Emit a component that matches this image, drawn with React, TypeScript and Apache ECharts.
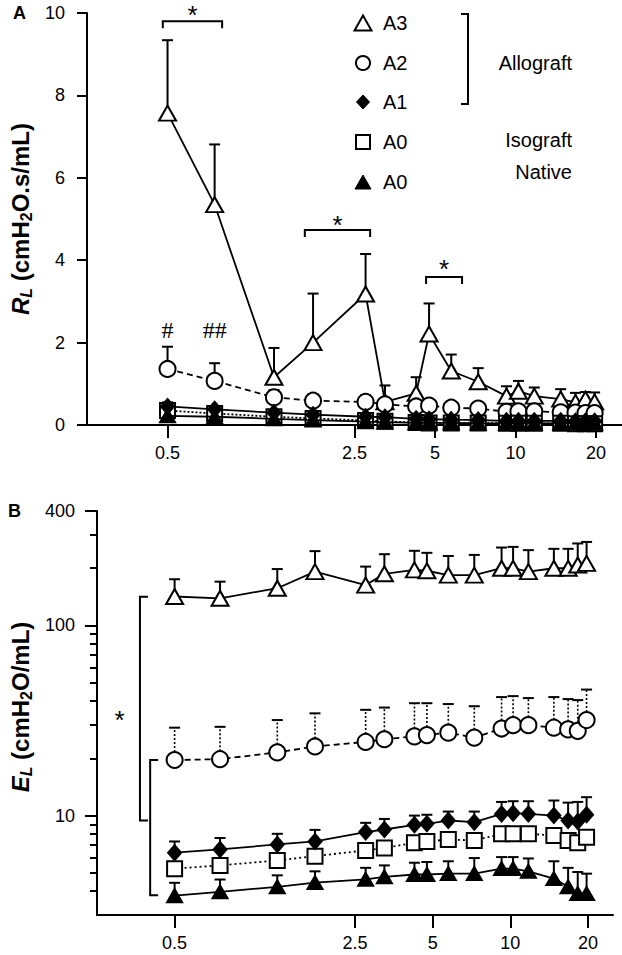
import React, { useEffect, useRef } from 'react';
import * as echarts from 'echarts';

const FONT = "'Liberation Sans', Arial, sans-serif";

// Oscillation frequencies (Hz)
const freqs = [0.5, 0.75, 1.25, 1.75, 2.75, 3.25, 4.25, 4.75, 5.75, 7.25, 9.25, 10.25, 11.75, 14.75, 16.75, 18.25, 19.75];

// Panel A – RL (cmH2O.s/mL): means and mean+SD
const rlA3 = [7.57, 5.35, 1.16, 2.0, 3.18, 0.56, 0.77, 2.21, 1.31, 1.05, 0.7, 0.82, 0.7, 0.63, 0.55, 0.63, 0.56];
const rlA3Up = [9.34, 6.81, 1.87, 3.19, 4.15, 0.96, 1.16, 2.95, 1.71, 1.38, 0.94, 1.07, 0.91, 0.87, 0.78, 0.8, 0.79];
const rlA2 = [1.36, 1.07, 0.67, 0.59, 0.56, 0.5, 0.45, 0.47, 0.42, 0.4, 0.32, 0.33, 0.33, 0.31, 0.3, 0.29, 0.29];
const rlA2Up = [1.9, 1.5, 0.85, 0.74, 0.72, 0.62, 0.56, 0.57, 0.52, 0.5, 0.42, 0.43, 0.42, 0.4, 0.38, 0.38, 0.37];
const rlA1 = [0.45, 0.38, 0.3, 0.25, 0.2, 0.19, 0.15, 0.14, 0.13, 0.12, 0.1, 0.1, 0.1, 0.1, 0.09, 0.09, 0.09];
const rlA1Up = [0.55, 0.45, 0.36, 0.3, 0.25, 0.24, 0.19, 0.18, 0.17, 0.16, 0.14, 0.14, 0.14, 0.14, 0.13, 0.13, 0.13];
const rlIso = [0.35, 0.28, 0.2, 0.16, 0.11, 0.09, 0.06, 0.05, 0.05, 0.05, 0.04, 0.04, 0.04, 0.04, 0.03, 0.03, 0.03];
const rlNat = [0.22, 0.2, 0.15, 0.12, 0.08, 0.07, 0.05, 0.05, 0.05, 0.04, 0.04, 0.04, 0.04, 0.04, 0.04, 0.04, 0.04];

// Panel B – EL (cmH2O/mL): means and mean+SD
const elA3 = [142, 139, 157, 192, 163, 187, 196, 194, 184, 184, 200, 200, 192, 200, 200, 208, 212];
const elA3Up = [175, 170, 198, 246, 204, 237, 247, 241, 232, 235, 257, 259, 249, 253, 253, 270, 275];
const elA2 = [19.6, 19.8, 21.5, 23.1, 24.4, 25.2, 26.1, 26.5, 27.3, 25.7, 28.7, 29.9, 29.9, 29.0, 28.4, 27.9, 31.8];
const elA2Up = [29.0, 29.3, 31.8, 34.5, 36, 37, 39, 39, 38.6, 37.6, 42, 42.5, 41.5, 42, 41, 40.5, 46];
const elA1 = [6.38, 6.64, 7.05, 7.31, 8.19, 8.45, 8.94, 9.05, 9.42, 9.23, 10.2, 10.3, 10.2, 10.0, 9.42, 9.3, 10.1];
const elA1Up = [7.31, 7.62, 8.02, 8.41, 9.16, 9.6, 10.0, 10.1, 10.5, 10.5, 11.8, 11.9, 11.9, 12.0, 11.7, 11.8, 12.5];
const elIso = [5.26, 5.47, 5.81, 6.12, 6.56, 6.75, 7.2, 7.31, 7.49, 7.4, 8.02, 8.02, 8.02, 7.86, 7.4, 7.2, 7.7];
const elNat = [3.79, 3.97, 4.22, 4.44, 4.62, 4.76, 4.9, 4.9, 4.95, 4.95, 5.26, 5.26, 5.09, 4.66, 4.22, 3.89, 3.89];
const elNatUp = [4.43, 4.61, 4.85, 5.09, 5.31, 5.47, 5.65, 5.7, 5.75, 5.98, 6.05, 6.05, 5.95, 5.75, 5.31, 5.05, 4.95];

// Tick values
const xTickVals = [0.5, 2.5, 5, 10, 20];
const rlTickVals = [0, 2, 4, 6, 8, 10];
const elTickVals = [10, 100, 400];
const elMinorVals = [4, 5, 6, 7, 8, 9, 20, 30, 40, 50, 60, 70, 80, 90, 200, 300];

// Significance annotations: [x from, x to, y]
const rlBrackets = [[0.48, 0.8, 9.8], [1.63, 2.86, 4.73], [4.63, 6.31, 3.59]];
const rlMarks: [number, number, string][] = [[0.62, 10.07, '*'], [2.16, 4.98, '*'], [5.4, 3.9, '*'], [0.5, 2.3, '#'], [0.75, 2.3, '##']];
// [x, y top, y bottom]
const elBrackets = [[0.367, 141.5, 9.42], [0.402, 19.6, 3.81]];
const elMarks: [number, number, string][] = [[0.306, 34, '*']];

const lg = Math.log10;
const fmtNum = (v: number) => String(parseFloat(v.toPrecision(3)));
const id = (v: number) => v;

function errSeries(xi: number, yi: number, ys: number[], ups: number[], tf: (v: number) => number, stemDash: any = null) {
  return {
    type: 'custom', xAxisIndex: xi, yAxisIndex: yi, z: 1, silent: true,
    data: freqs.map((f, i) => [lg(f), tf(ys[i]), tf(ups[i])]),
    encode: { x: 0, y: [1, 2] },
    renderItem: (_p: any, api: any) => {
      const a = api.coord([api.value(0), api.value(1)]);
      const b = api.coord([api.value(0), api.value(2)]);
      const stemStyle: any = { stroke: '#000', lineWidth: stemDash ? 1.6 : 2 };
      if (stemDash) stemStyle.lineDash = stemDash;
      return {
        type: 'group', children: [
          { type: 'line', shape: { x1: a[0], y1: a[1], x2: b[0], y2: b[1] }, style: stemStyle },
          { type: 'line', shape: { x1: b[0] - 5.5, y1: b[1], x2: b[0] + 5.5, y2: b[1] }, style: { stroke: '#000', lineWidth: 2 } },
        ],
      };
    },
  };
}

function lineSeries(xi: number, yi: number, ys: number[], tf: (v: number) => number, symbol: string, size: any, fill: string, dash: any, z: number) {
  return {
    type: 'line', xAxisIndex: xi, yAxisIndex: yi, z, silent: true,
    data: freqs.map((f, i) => [lg(f), tf(ys[i])]),
    symbol, symbolSize: size, showSymbol: true, showAllSymbol: true,
    itemStyle: { color: fill, borderColor: '#000', borderWidth: 2, opacity: 1 },
    lineStyle: { color: '#000', width: 1.8, type: dash },
    clip: false,
  };
}

function hBracketSeries(xi: number, yi: number, list: number[][]) {
  return {
    type: 'custom', xAxisIndex: xi, yAxisIndex: yi, z: 3, silent: true,
    data: list.map((b) => [lg(b[0]), lg(b[1]), b[2]]),
    encode: { x: [0, 1], y: 2 },
    renderItem: (_p: any, api: any) => {
      const a = api.coord([api.value(0), api.value(2)]);
      const b = api.coord([api.value(1), api.value(2)]);
      return {
        type: 'polyline',
        shape: { points: [[a[0], a[1] + 7], [a[0], a[1]], [b[0], b[1]], [b[0], b[1] + 7]] },
        style: { stroke: '#000', lineWidth: 2, fill: 'none' },
      };
    },
  };
}

function vBracketSeries(xi: number, yi: number, list: number[][]) {
  return {
    type: 'custom', xAxisIndex: xi, yAxisIndex: yi, z: 3, silent: true,
    data: list.map((b) => [lg(b[0]), lg(b[1]), lg(b[2])]),
    encode: { x: 0, y: [1, 2] },
    renderItem: (_p: any, api: any) => {
      const a = api.coord([api.value(0), api.value(1)]);
      const b = api.coord([api.value(0), api.value(2)]);
      return {
        type: 'polyline',
        shape: { points: [[a[0] + 8, a[1]], [a[0], a[1]], [b[0], b[1]], [b[0] + 8, b[1]]] },
        style: { stroke: '#000', lineWidth: 2, fill: 'none' },
      };
    },
  };
}

function markSeries(xi: number, yi: number, list: [number, number, string][], tf: (v: number) => number) {
  return {
    type: 'custom', xAxisIndex: xi, yAxisIndex: yi, z: 3, silent: true,
    data: list.map((m, i) => [lg(m[0]), tf(m[1]), i]),
    encode: { x: 0, y: 1 },
    renderItem: (_p: any, api: any) => {
      const p = api.coord([api.value(0), api.value(1)]);
      const txt = list[api.value(2)][2];
      const star = txt === '*';
      return {
        type: 'text', x: p[0], y: p[1] + (star ? 5 : 0),
        style: {
          text: txt, fill: '#000', align: 'center', verticalAlign: 'middle',
          font: star ? `26px ${FONT}` : `24px 'Liberation Serif', serif`,
        },
      };
    },
  };
}

const axisLineStyle = { color: '#000', width: 2 };
const labelStyle = { color: '#000', fontSize: 18, fontFamily: FONT };

function xAxisCfg(gridIndex: number) {
  const vals = xTickVals.map(lg);
  return {
    gridIndex, type: 'value', min: lg(0.25), max: lg(25),
    axisLine: { show: true, onZero: false, lineStyle: axisLineStyle },
    axisTick: { show: true, customValues: vals, length: 13, lineStyle: axisLineStyle },
    axisLabel: { ...labelStyle, customValues: vals, margin: 19, formatter: (v: number) => fmtNum(Math.pow(10, v)) },
    splitLine: { show: false },
  };
}

const richName = {
  i: { fontStyle: 'italic', fontWeight: 'bold', fontSize: 24, fontFamily: FONT, color: '#000' },
  s: { fontStyle: 'italic', fontWeight: 'bold', fontSize: 16, fontFamily: FONT, color: '#000', padding: [12, 0, 0, 0] },
  b: { fontWeight: 'bold', fontSize: 24, fontFamily: FONT, color: '#000' },
  n: { fontWeight: 'bold', fontSize: 16, fontFamily: FONT, color: '#000', padding: [12, 0, 0, 0] },
};

export default function App() {
  const ref = useRef<HTMLDivElement>(null);
  useEffect(() => {
    if (!ref.current) return;
    const chart = echarts.init(ref.current, undefined, { renderer: 'svg' });
    const legendText = (text: string, x: number, y: number, align = 'left') => ({
      type: 'text', x, y, style: { text, fill: '#000', font: `20px ${FONT}`, align, verticalAlign: 'middle' },
    });
    const option: any = {
      animation: false,
      backgroundColor: '#fff',
      grid: [
        { left: 87, top: 13, width: 535, height: 412, containLabel: false },
        { left: 87, top: 511, width: 526, height: 404, containLabel: false },
      ],
      xAxis: [xAxisCfg(0), xAxisCfg(1)],
      yAxis: [
        {
          gridIndex: 0, type: 'value', min: 0, max: 10, interval: 2, position: 'left', offset: 0,
          axisLine: { show: true, onZero: false, lineStyle: axisLineStyle },
          axisTick: { show: true, customValues: rlTickVals, length: 10, lineStyle: axisLineStyle },
          axisLabel: { ...labelStyle, customValues: rlTickVals, margin: 22 },
          splitLine: { show: false },
          name: '{i|R}{s|L}{b| (cmH}{n|2}{b|O.s/mL)}',
          nameLocation: 'middle', nameRotate: 90, nameGap: 52,
          nameTextStyle: { fontFamily: FONT, fontSize: 24, fontWeight: 'bold', color: '#000', rich: richName },
        },
        {
          gridIndex: 1, type: 'value', min: lg(3), max: lg(400), position: 'left', offset: 0,
          axisLine: { show: true, onZero: false, lineStyle: axisLineStyle },
          axisTick: { show: true, customValues: elTickVals.map(lg), length: 12, lineStyle: axisLineStyle },
          axisLabel: { ...labelStyle, customValues: elTickVals.map(lg), margin: 22, formatter: (v: number) => String(Math.round(Math.pow(10, v))) },
          splitLine: { show: false },
          name: '{i|E}{s|L}{b| (cmH}{n|2}{b|O/mL)}',
          nameLocation: 'middle', nameRotate: 90, nameGap: 60,
          nameTextStyle: { fontFamily: FONT, fontSize: 24, fontWeight: 'bold', color: '#000', rich: richName, padding: [0, 0, 0, 12] },
        },
        {
          gridIndex: 1, type: 'value', min: lg(3), max: lg(400), position: 'left', offset: 0,
          axisLine: { show: false, onZero: false },
          axisTick: { show: true, customValues: elMinorVals.map(lg), length: 7, lineStyle: axisLineStyle },
          axisLabel: { show: false },
          splitLine: { show: false },
        },
      ],
      series: [
        // Panel A
        errSeries(0, 0, rlA3, rlA3Up, id),
        errSeries(0, 0, rlA2, rlA2Up, id),
        errSeries(0, 0, rlA1, rlA1Up, id),
        lineSeries(0, 0, rlA3, id, 'triangle', [17, 15], '#fff', 'solid', 2),
        lineSeries(0, 0, rlA2, id, 'circle', 16, '#fff', [6, 4], 3),
        lineSeries(0, 0, rlIso, id, 'rect', 15, '#fff', [2, 2], 4),
        lineSeries(0, 0, rlA1, id, 'diamond', [13, 15], '#000', 'solid', 5),
        lineSeries(0, 0, rlNat, id, 'triangle', [15, 13], '#000', 'solid', 6),
        hBracketSeries(0, 0, rlBrackets),
        markSeries(0, 0, rlMarks, id),
        // Panel B
        errSeries(1, 1, elA3, elA3Up, lg),
        errSeries(1, 1, elA2, elA2Up, lg, [2, 2]),
        errSeries(1, 1, elA1, elA1Up, lg),
        errSeries(1, 1, elNat, elNatUp, lg),
        lineSeries(1, 1, elA3, lg, 'triangle', [17, 15], '#fff', 'solid', 2),
        lineSeries(1, 1, elA2, lg, 'circle', 16, '#fff', [6, 4], 3),
        lineSeries(1, 1, elIso, lg, 'rect', 15, '#fff', [2, 3], 4),
        lineSeries(1, 1, elA1, lg, 'diamond', [13, 15], '#000', 'solid', 5),
        lineSeries(1, 1, elNat, lg, 'triangle', [15, 13], '#000', 'solid', 6),
        vBracketSeries(1, 1, elBrackets),
        markSeries(1, 1, elMarks, lg),
      ],
      graphic: [
        { type: 'text', x: 13, y: 13, style: { text: 'A', fill: '#000', font: `bold 18px ${FONT}`, align: 'left', verticalAlign: 'middle' } },
        { type: 'text', x: 8, y: 511, style: { text: 'B', fill: '#000', font: `bold 18px ${FONT}`, align: 'left', verticalAlign: 'middle' } },
        // legend symbols
        { type: 'polygon', shape: { points: [[363, 15.5], [354.5, 30.5], [371.5, 30.5]] }, style: { fill: '#fff', stroke: '#000', lineWidth: 2 } },
        { type: 'circle', shape: { cx: 363, cy: 63, r: 7 }, style: { fill: '#fff', stroke: '#000', lineWidth: 2 } },
        { type: 'polygon', shape: { points: [[363, 95], [369.5, 102], [363, 109], [356.5, 102]] }, style: { fill: '#000', stroke: '#000', lineWidth: 1 } },
        { type: 'rect', shape: { x: 356, y: 135, width: 14, height: 14 }, style: { fill: '#fff', stroke: '#000', lineWidth: 2 } },
        { type: 'polygon', shape: { points: [[363, 175], [355, 189], [371, 189]] }, style: { fill: '#000', stroke: '#000', lineWidth: 1 } },
        legendText('A3', 383, 23),
        legendText('A2', 383, 63),
        legendText('A1', 383, 102),
        legendText('A0', 383, 142),
        legendText('A0', 383, 182),
        { type: 'polyline', shape: { points: [[461, 14], [468, 14], [468, 104], [461, 104]] }, style: { fill: 'none', stroke: '#000', lineWidth: 2 } },
        legendText('Allograft', 572, 63, 'right'),
        legendText('Isograft', 572, 140, 'right'),
        legendText('Native', 572, 172, 'right'),
      ],
    };
    chart.setOption(option);
    return () => chart.dispose();
  }, []);
  return <div ref={ref} style={{ position: 'absolute', left: 0, top: 0, width: 622, height: 955, background: '#fff' }} />;
}
